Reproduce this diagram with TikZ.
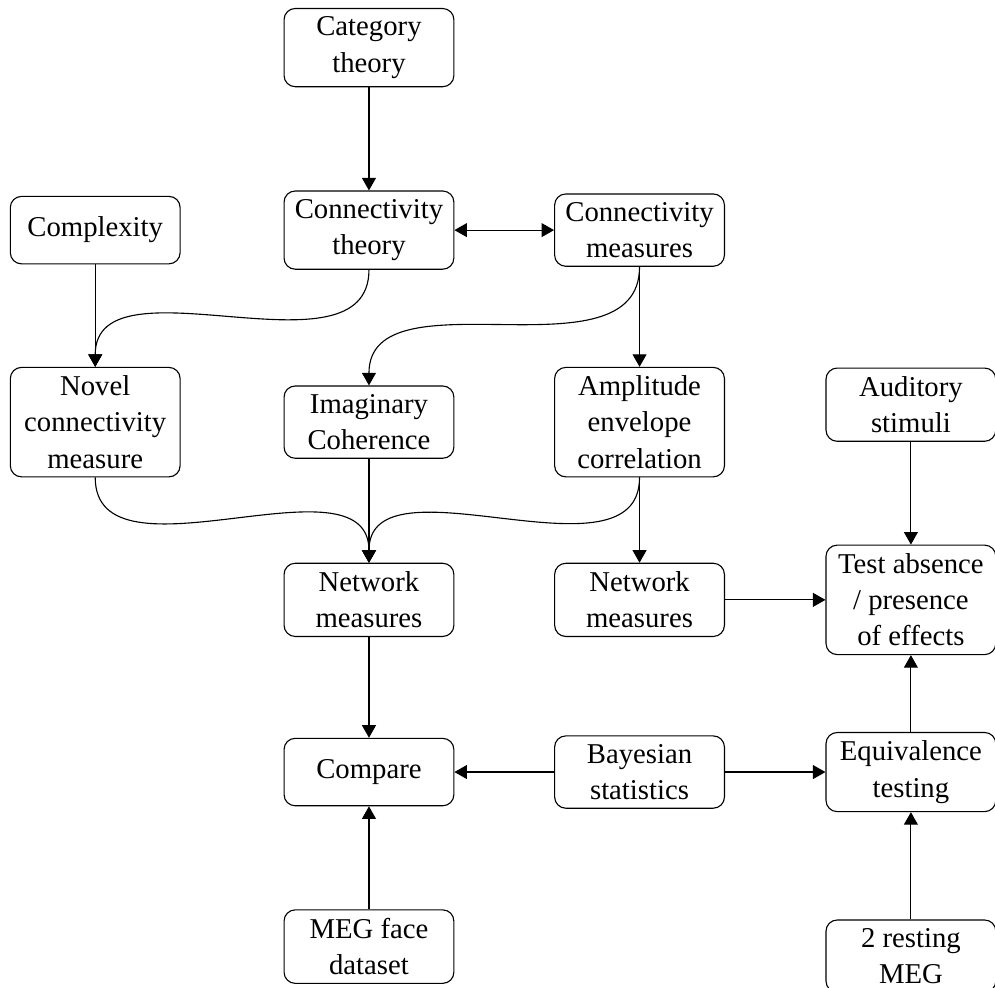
\documentclass[tikz,border=0pt]{standalone}
\usepackage{fontspec}
\setmainfont{Liberation Serif}
\usetikzlibrary{arrows.meta}

\begin{document}
\begin{tikzpicture}[
  >={Triangle[length=4.5pt,width=5pt]},
  box/.style={draw, rounded corners, fill=white, align=center,
    font=\fontsize{10.3}{13}\selectfont,
    minimum width=2.14cm, minimum height=0.85cm, inner sep=3pt}
]
\useasboundingbox (0,0) rectangle (12.54,-12.44);

% column 1
\node[box](complexity) at (1.20,-2.90) {Complexity};
\node[box](novel) at (1.20,-5.32) {Novel\\connectivity\\measure};

% column 2
\node[box](category) at (4.65,-0.60) {Category\\theory};
\node[box](ctheory) at (4.65,-2.90) {Connectivity\\theory};
\node[box](imag) at (4.65,-5.32) {Imaginary\\Coherence};
\node[box](netleft) at (4.65,-7.56) {Network\\measures};
\node[box](compare) at (4.65,-9.73) {Compare};
\node[box](megface) at (4.65,-11.93) {MEG face\\dataset};

% column 3
\node[box](cmeasures) at (8.06,-2.90) {Connectivity\\measures};
\node[box](amplitude) at (8.06,-5.32) {Amplitude\\envelope\\correlation};
\node[box](netright) at (8.06,-7.56) {Network\\measures};
\node[box](bayes) at (8.06,-9.73) {Bayesian\\statistics};

% column 4
\node[box](auditory) at (11.48,-5.10) {Auditory\\stimuli};
\node[box](test) at (11.48,-7.56) {Test absence\\/ presence\\of effects};
\node[box](equiv) at (11.48,-9.73) {Equivalence\\testing};
\node[box](resting) at (11.48,-12.05) {2 resting\\MEG};

\draw[->] (category) -- (ctheory);
\draw[<->] (ctheory) -- (cmeasures);
\draw[->] (complexity) -- (novel);
\draw[->] (ctheory.south) to[out=-90,in=90] (novel.north);
\draw[->] (cmeasures.south) to[out=-90,in=90] (imag.north);
\draw[->] (cmeasures) -- (amplitude);

\draw[->] (novel.south) to[out=-90,in=90] (netleft.north);
\draw[->] (imag) -- (netleft);
\draw[->] (amplitude.south) to[out=-90,in=90] (netleft.north);
\draw[->] (amplitude) -- (netright);
\draw[->] (netright) -- (test);
\draw[->] (auditory) -- (test);

\draw[->] (netleft) -- (compare);
\draw[->] (megface) -- (compare);
\draw[->] (bayes) -- (compare);
\draw[->] (bayes) -- (equiv);
\draw[->] (equiv) -- (test);
\draw[->] (resting) -- (equiv);
\end{tikzpicture}
\end{document}
